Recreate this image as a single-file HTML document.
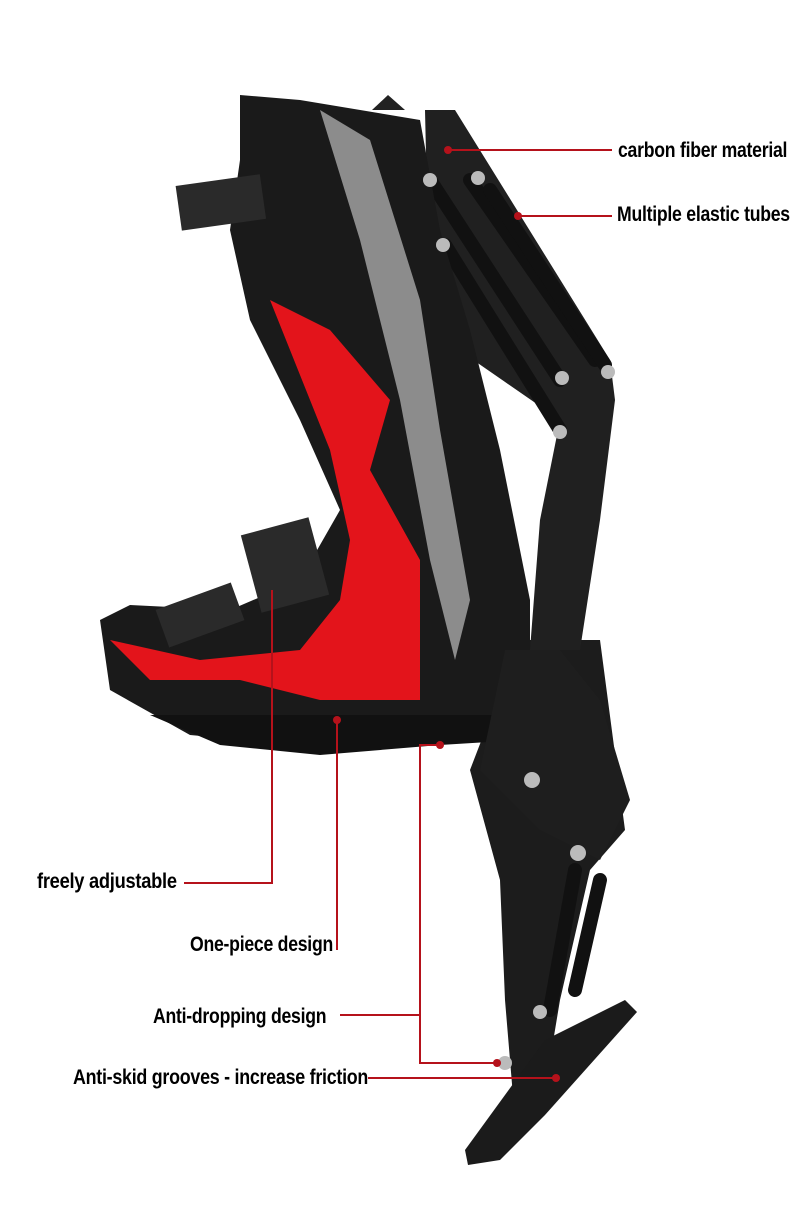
<!DOCTYPE html>
<html><head><meta charset="utf-8"><style>
html,body{margin:0;padding:0;background:#fff;width:800px;height:1217px;overflow:hidden}
.l{position:absolute;font-family:"Liberation Sans Narrow","Liberation Sans",sans-serif;font-weight:bold;color:#000;font-size:21px;white-space:nowrap;transform-origin:left center;transform:scaleX(0.84);letter-spacing:-0.3px}
</style></head><body>
<svg width="800" height="1217" style="position:absolute;left:0;top:0">
<path d="M372,110 L388,95 L405,110 Z" fill="#222"/>
<path d="M520,640 L600,640 L625,830 L590,870 L560,1000 L540,1120 L515,1120 L505,1000 L500,880 L470,770 Z" fill="#1c1c1c"/>
<path d="M425,110 L455,110 L610,360 L615,400 L600,520 L580,650 L530,650 L540,520 L560,420 L430,330 Z" fill="#202020"/>
<g stroke="#111" stroke-width="14" stroke-linecap="round">
<line x1="430" y1="180" x2="560" y2="380"/>
<line x1="470" y1="180" x2="595" y2="360"/>
<line x1="490" y1="190" x2="605" y2="365"/>
<line x1="445" y1="245" x2="560" y2="430"/>
<line x1="575" y1="870" x2="550" y2="1010"/>
<line x1="600" y1="880" x2="575" y2="990"/>
</g>
<path d="M240,95 L300,100 L420,120 L440,230 L470,330 L500,450 L530,600 L530,680 L500,720 L440,740 L300,745 L190,735 L110,690 L100,620 L130,605 L230,610 L300,580 L340,510 L300,420 L250,320 L230,230 L240,160 Z" fill="#1a1a1a"/>
<path d="M270,300 L330,330 L390,400 L370,470 L420,560 L420,700 L320,700 L240,680 L150,680 L110,640 L200,660 L300,650 L340,600 L350,540 L330,450 Z" fill="#e3141b"/>
<path d="M320,110 L370,140 L420,300 L440,430 L470,600 L455,660 L430,560 L400,400 L360,240 Z" fill="#bdbdbd" opacity="0.7"/>
<rect x="178" y="180" width="85" height="45" fill="#2a2a2a" transform="rotate(-8 220 200)"/>
<rect x="160" y="595" width="80" height="40" fill="#2a2a2a" transform="rotate(-20 200 615)"/>
<rect x="250" y="525" width="70" height="80" fill="#2a2a2a" transform="rotate(-15 285 565)"/>
<path d="M150,715 L500,715 L520,740 L440,745 L320,755 L220,745 Z" fill="#111"/>
<path d="M505,650 L560,650 L600,700 L630,800 L600,860 L540,830 L480,770 Z" fill="#1e1e1e"/>
<path d="M545,1040 L625,1000 L637,1012 L545,1115 L500,1160 L468,1165 L465,1150 Z" fill="#1b1b1b"/>
<g fill="#bbb"><circle cx="430" cy="180" r="7"/><circle cx="443" cy="245" r="7"/><circle cx="478" cy="178" r="7"/><circle cx="562" cy="378" r="7"/><circle cx="560" cy="432" r="7"/><circle cx="608" cy="372" r="7"/><circle cx="532" cy="780" r="8"/><circle cx="578" cy="853" r="8"/><circle cx="540" cy="1012" r="7"/><circle cx="505" cy="1063" r="7"/></g>
<g stroke="#b5121b" stroke-width="2" fill="none">
<line x1="448" y1="150" x2="612" y2="150"/>
<line x1="518" y1="216" x2="612" y2="216"/>
<polyline points="184,883 272,883 272,590"/>
<line x1="337" y1="720" x2="337" y2="950"/>
<polyline points="340,1015 420,1015"/>
<polyline points="440,745 420,745 420,1063 497,1063"/>
<line x1="368" y1="1078" x2="556" y2="1078"/>
</g>
<g fill="#b5121b"><circle cx="448" cy="150" r="4"/><circle cx="518" cy="216" r="4"/><circle cx="337" cy="720" r="4"/><circle cx="440" cy="745" r="4"/><circle cx="497" cy="1063" r="4"/><circle cx="556" cy="1078" r="4"/></g>
</svg>
<div class="l" style="left:618px;top:139px">carbon fiber material</div>
<div class="l" style="left:617px;top:203px">Multiple elastic tubes</div>
<div class="l" style="left:37px;top:870px;transform:scaleX(0.87)">freely adjustable</div>
<div class="l" style="left:190px;top:933px">One-piece design</div>
<div class="l" style="left:153px;top:1005px">Anti-dropping design</div>
<div class="l" style="left:73px;top:1066px;transform:scaleX(0.85)">Anti-skid grooves - increase friction</div>
</body></html>
